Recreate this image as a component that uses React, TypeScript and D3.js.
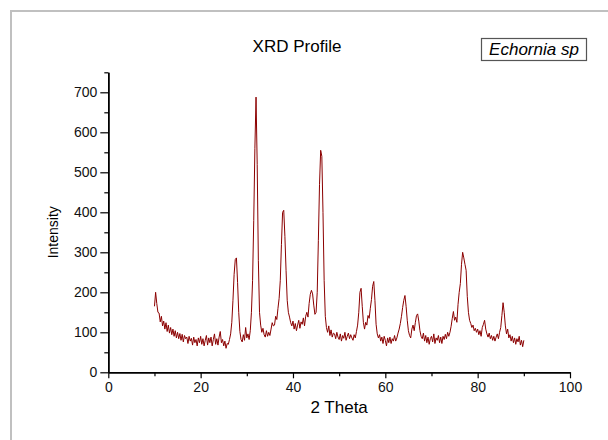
import React, { useEffect, useRef } from 'react';
import * as d3 from 'd3';

// step scan: 10 to 90 degrees, 0.25 degree steps
const twoThetaStart = 10;
const twoThetaStep = 0.25;
const intensity = [
  165, 200, 172, 150,
  148, 126, 140, 116,
  128, 108, 124, 102,
  118, 98, 112, 94,
  108, 90, 104, 86,
  100, 84, 97, 80,
  95, 76, 92, 84,
  88, 72, 90, 78,
  85, 68, 88, 74,
  82, 66, 86, 74,
  90, 70, 84, 66, // 20
  80, 92, 68, 86,
  74, 88, 66, 82,
  96, 70, 84, 68,
  88, 102, 74, 82,
  66, 78, 60, 72,
  70, 82, 96, 125,
  180, 245, 282, 286,
  225, 150, 102, 82,
  76, 94, 80, 112,
  86, 96, 82, 104, // 30
  150, 230, 380, 560,
  688, 520, 280, 150,
  118, 100, 110, 94,
  88, 104, 90, 100,
  92, 108, 124, 116,
  118, 140, 132, 160,
  185, 230, 320, 400,
  405, 340, 255, 180,
  150, 138, 124, 116,
  128, 108, 122, 104, // 40
  118, 130, 110, 126,
  120, 136, 116, 140,
  150, 138, 172, 195,
  205, 196, 168, 145,
  150, 200, 330, 470,
  555, 540, 400, 230,
  140, 112, 100, 116,
  92, 106, 88, 98,
  96, 84, 100, 88,
  82, 96, 78, 92, // 50
  85, 100, 80, 90,
  98, 84, 94, 86,
  80, 94, 86, 102,
  118, 150, 200, 210,
  165, 125, 108, 125,
  118, 142, 135, 160,
  182, 215, 227, 180,
  120, 96, 86, 94,
  78, 88, 72, 90,
  80, 66, 86, 74, // 60
  88, 72, 84, 78,
  92, 78, 86, 98,
  108, 122, 140, 162,
  180, 192, 165, 130,
  104, 92, 86, 108,
  118, 104, 124, 142,
  146, 128, 104, 90,
  84, 98, 78, 92,
  74, 88, 70, 84,
  90, 76, 96, 72, // 70
  86, 80, 92, 74,
  88, 72, 90, 82,
  95, 84, 100, 90,
  100, 115, 135, 152,
  130, 138, 125, 170,
  200, 222, 270, 300,
  286, 270, 255, 190,
  150, 130, 122, 112,
  118, 104, 110, 100,
  108, 94, 104, 90, // 80
  112, 120, 130, 108,
  96, 88, 98, 84,
  92, 80, 90, 78,
  88, 96, 84, 100,
  112, 142, 174, 150,
  116, 96, 108, 86,
  94, 78, 90, 74,
  86, 70, 84, 76,
  90, 68, 80, 64,
  80 // 90
];
const twoTheta = intensity.map((_, i) => twoThetaStart + i * twoThetaStep);

const xTicks = [0, 20, 40, 60, 80, 100];
const xMinorTicks = [10, 30, 50, 70, 90];
const yTicks = [0, 100, 200, 300, 400, 500, 600, 700];
const yMinorTicks = [50, 150, 250, 350, 450, 550, 650, 750];

const title = 'XRD Profile';
const legendLabel = 'Echornia sp';
const xLabel = '2 Theta';
const yLabel = 'Intensity';

const W = 608;
const H = 440;
const FONT = '"Liberation Sans", Arial, Helvetica, sans-serif';

export default function App() {
  const ref = useRef<SVGSVGElement>(null);

  useEffect(() => {
    const svg = d3.select(ref.current);
    svg.selectAll('*').remove();

    const x = d3.scaleLinear().domain([0, 100]).range([108.3, 570]);
    const y = d3.scaleLinear().domain([0, 750]).range([372.3, 72.3]);

    // page frame
    svg.append('rect')
      .attr('x', 11).attr('y', 11)
      .attr('width', 700).attr('height', 500)
      .attr('fill', 'none')
      .attr('stroke', '#c0c0c0')
      .attr('stroke-width', 2);

    const styleAxis = (g: any) => {
      g.attr('font-family', FONT).attr('font-size', 14);
      g.selectAll('path').attr('stroke', '#000').attr('stroke-width', 1.5);
      g.selectAll('line').attr('stroke', '#000').attr('stroke-width', 1.2);
      g.selectAll('text').attr('fill', '#111');
    };

    // y axis
    svg.append('g')
      .attr('transform', `translate(${x(0)},0)`)
      .call(d3.axisLeft(y).tickValues(yMinorTicks).tickSize(4).tickSizeOuter(0).tickFormat(() => ''))
      .call(styleAxis);
    svg.append('g')
      .attr('transform', `translate(${x(0)},0)`)
      .call(d3.axisLeft(y).tickValues(yTicks).tickSize(8).tickPadding(3).tickSizeOuter(0))
      .call(styleAxis);

    // x axis
    svg.append('g')
      .attr('transform', `translate(0,${y(0)})`)
      .call(d3.axisBottom(x).tickValues(xMinorTicks).tickSize(4).tickSizeOuter(0).tickFormat(() => ''))
      .call(styleAxis);
    svg.append('g')
      .attr('transform', `translate(0,${y(0)})`)
      .call(d3.axisBottom(x).tickValues(xTicks).tickSize(6).tickPadding(4).tickSizeOuter(0))
      .call(styleAxis);

    // profile
    const line = d3.line<number>()
      .x((_, i) => x(twoTheta[i]))
      .y((d) => y(d));
    svg.append('path')
      .datum(intensity)
      .attr('d', line)
      .attr('fill', 'none')
      .attr('stroke', '#8b0000')
      .attr('stroke-width', 1)
      .attr('stroke-linejoin', 'round');

    // labels
    svg.append('text')
      .attr('x', 297).attr('y', 52)
      .attr('text-anchor', 'middle')
      .attr('font-family', FONT).attr('font-size', 17)
      .text(title);

    svg.append('text')
      .attr('x', (x(0) + x(100)) / 2).attr('y', 413)
      .attr('text-anchor', 'middle')
      .attr('font-family', FONT).attr('font-size', 17)
      .text(xLabel);

    svg.append('text')
      .attr('transform', `translate(58,${(y(0) + y(750)) / 2 + 10}) rotate(-90)`)
      .attr('text-anchor', 'middle')
      .attr('font-family', FONT).attr('font-size', 14)
      .text(yLabel);

    // legend box
    const legend = svg.append('g').attr('transform', 'translate(481.5,38.5)');
    legend.append('rect')
      .attr('width', 105).attr('height', 22)
      .attr('fill', '#fff')
      .attr('stroke', '#555')
      .attr('stroke-width', 1.2);
    legend.append('text')
      .attr('x', 52.5).attr('y', 16)
      .attr('text-anchor', 'middle')
      .attr('font-family', FONT).attr('font-size', 17)
      .attr('font-style', 'italic')
      .text(legendLabel);
  }, []);

  return (
    <svg
      ref={ref}
      width={W}
      height={H}
      style={{ position: 'absolute', left: 0, top: 0, background: '#fff' }}
    />
  );
}
